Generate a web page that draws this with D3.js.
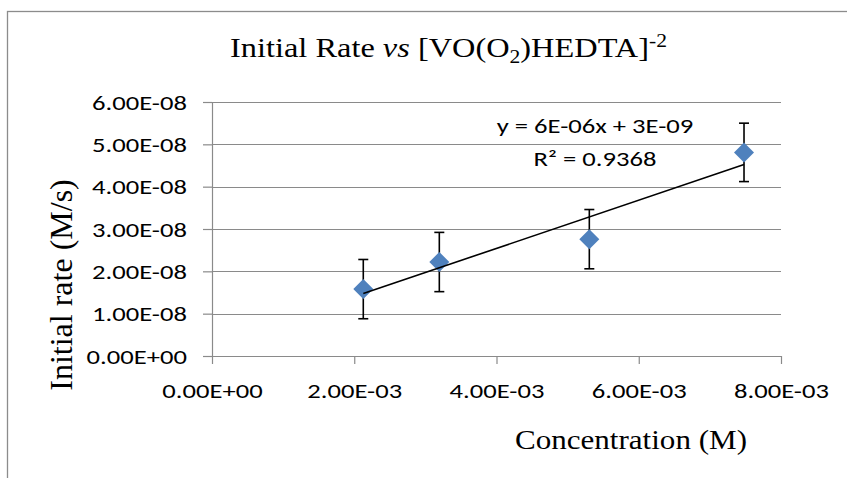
<!DOCTYPE html>
<html>
<head>
<meta charset="utf-8">
<script src="https://cdn.jsdelivr.net/npm/d3@7"></script>
<style>
  html, body { margin: 0; padding: 0; background: #ffffff; }
  svg { display: block; }
</style>
</head>
<body>
<script>
// ---------------- data ----------------
const concentration = [2.127e-3, 3.196e-3, 5.305e-3, 7.48e-3];   // M
const initialRate   = [1.58e-8, 2.22e-8, 2.76e-8, 4.81e-8];      // M/s
const rateError     = [7.0e-9, 7.0e-9, 7.0e-9, 6.9e-9];          // +/- error bar

const xTickValues = [0, 0.002, 0.004, 0.006, 0.008];
const xTickLabels = ["0.00E+00", "2.00E-03", "4.00E-03", "6.00E-03", "8.00E-03"];
const yTickValues = [0, 1e-8, 2e-8, 3e-8, 4e-8, 5e-8, 6e-8];
const yTickLabels = ["0.00E+00", "1.00E-08", "2.00E-08", "3.00E-08", "4.00E-08", "5.00E-08", "6.00E-08"];

const trendEquation = "y = 6E-06x + 3E-09";
const trendR2 = "R\u00B2 = 0.9368";
const yAxisTitle = "Initial rate (M/s)";
const xAxisTitle = "Concentration (M)";

// ---------------- layout ----------------
const W = 847, H = 478;
const plotLeft = 212, plotRight = 781, plotTop = 102, plotBottom = 356;
const gridColor = "#8a8a8a";
const sansFont = "Carlito, Lato, 'Open Sans', sans-serif";
const serifFont = "'Liberation Serif', 'Times New Roman', serif";
const sansSize = 20;

const svg = d3.select("body").append("svg").attr("width", W).attr("height", H);

function measureWidth(str, family, size) {
  const t = svg.append("text").style("font-family", family).style("font-size", size + "px").text(str);
  const w = t.node().getComputedTextLength();
  t.remove();
  return w;
}
// horizontal stretch so that sans labels match the reference widths
const SX = 95 / measureWidth("6.00E-08", sansFont, sansSize);

// outer chart frame (extends past the window on right/bottom)
svg.append("rect")
  .attr("x", 7.5).attr("y", 11.5).attr("width", W + 20).attr("height", H + 20)
  .attr("fill", "#fff").attr("stroke", "#8c8c8c").attr("stroke-width", 1.3);

const x = d3.scaleLinear().domain([0, 0.008]).range([plotLeft, plotRight]);
const y = d3.scaleLinear().domain([0, 6e-8]).range([plotBottom, plotTop]);

// gridlines
svg.append("g").selectAll("line")
  .data(yTickValues.filter(d => d > 0))
  .join("line")
  .attr("x1", plotLeft).attr("x2", plotRight)
  .attr("y1", d => Math.round(y(d)) + 0.5).attr("y2", d => Math.round(y(d)) + 0.5)
  .attr("stroke", gridColor).attr("stroke-width", 1.2);

// y axis
const yAxis = svg.append("g")
  .attr("transform", `translate(${plotLeft},0)`)
  .call(d3.axisLeft(y).tickValues(yTickValues)
        .tickFormat((d, i) => yTickLabels[i]).tickSize(9).tickSizeOuter(0));
yAxis.select(".domain").attr("stroke", gridColor).attr("stroke-width", 1.2);
yAxis.selectAll(".tick line").attr("stroke", gridColor).attr("stroke-width", 1.2);
yAxis.selectAll(".tick text")
  .attr("x", 0).attr("dy", null)
  .attr("transform", `translate(-25,7.3) scale(${SX},1)`)
  .attr("text-anchor", "end")
  .attr("fill", "#000")
  .style("font-family", sansFont).style("font-size", sansSize + "px");

// x axis
const xAxis = svg.append("g")
  .attr("transform", `translate(0,${plotBottom})`)
  .call(d3.axisBottom(x).tickValues(xTickValues)
        .tickFormat((d, i) => xTickLabels[i]).tickSize(8).tickSizeOuter(0));
xAxis.select(".domain").attr("stroke", gridColor).attr("stroke-width", 1.2);
xAxis.selectAll(".tick line").attr("stroke", gridColor).attr("stroke-width", 1.2);
xAxis.selectAll(".tick text")
  .attr("y", 0).attr("dy", null)
  .attr("transform", `translate(0,41.7) scale(${SX},1)`)
  .attr("text-anchor", "middle")
  .attr("fill", "#000")
  .style("font-family", sansFont).style("font-size", sansSize + "px");

const pts = concentration.map((c, i) => ({ c, r: initialRate[i], e: rateError[i] }));

// error bars
const eb = svg.append("g").attr("stroke", "#000").attr("stroke-width", 1.6).attr("fill", "none");
pts.forEach(p => {
  const cx = x(p.c);
  eb.append("line").attr("x1", cx).attr("x2", cx).attr("y1", y(p.r + p.e)).attr("y2", y(p.r - p.e));
  eb.append("line").attr("x1", cx - 5).attr("x2", cx + 5).attr("y1", y(p.r + p.e)).attr("y2", y(p.r + p.e));
  eb.append("line").attr("x1", cx - 5).attr("x2", cx + 5).attr("y1", y(p.r - p.e)).attr("y2", y(p.r - p.e));
});

// markers
svg.append("g").selectAll("path")
  .data(pts)
  .join("path")
  .attr("transform", d => `translate(${x(d.c)},${y(d.r)})`)
  .attr("d", "M0,-10L10,0L0,10L-10,0Z")
  .attr("fill", "#4F81BD");

// linear trendline (least squares over the data)
const mx = d3.mean(concentration), my = d3.mean(initialRate);
const sxy = d3.sum(concentration, (c, i) => (c - mx) * (initialRate[i] - my));
const sxx = d3.sum(concentration, c => (c - mx) * (c - mx));
const slope = sxy / sxx, intercept = my - slope * mx;
const xExt = d3.extent(concentration);
svg.append("line")
  .attr("x1", x(xExt[0])).attr("y1", y(slope * xExt[0] + intercept))
  .attr("x2", x(xExt[1])).attr("y2", y(slope * xExt[1] + intercept))
  .attr("stroke", "#000").attr("stroke-width", 1.6);

// trendline label
[trendEquation, trendR2].forEach((t, i) => {
  svg.append("text")
    .attr("transform", `translate(595,${133 + i * 33}) scale(${SX},1)`)
    .attr("text-anchor", "middle")
    .style("font-family", sansFont).style("font-size", sansSize + "px")
    .attr("fill", "#000")
    .text(t);
});

// title
const title = svg.append("text")
  .attr("text-anchor", "middle")
  .style("font-family", serifFont).style("font-size", "27px")
  .attr("fill", "#000");
title.append("tspan").text("Initial Rate ");
title.append("tspan").style("font-style", "italic").text("vs");
title.append("tspan").text(" [VO(O");
title.append("tspan").attr("dy", 6).style("font-size", "18px").text("2");
title.append("tspan").attr("dy", -6).text(")HEDTA]");
title.append("tspan").attr("dy", -10).style("font-size", "18px").text("-2");
const titleW = title.node().getBBox().width;
title.attr("transform", `translate(448.5,57) scale(${437 / titleW},1)`);

// y axis title
svg.append("text")
  .attr("transform", "translate(72,285) rotate(-90)")
  .attr("text-anchor", "middle")
  .style("font-family", serifFont).style("font-size", "32px")
  .attr("fill", "#000")
  .text(yAxisTitle);

// x axis title
const xt = svg.append("text")
  .attr("text-anchor", "middle")
  .style("font-family", serifFont).style("font-size", "27.5px")
  .attr("fill", "#000")
  .text(xAxisTitle);
const xtW = xt.node().getComputedTextLength();
xt.attr("transform", `translate(631,449) scale(${232 / xtW},1)`);
</script>
</body>
</html>
